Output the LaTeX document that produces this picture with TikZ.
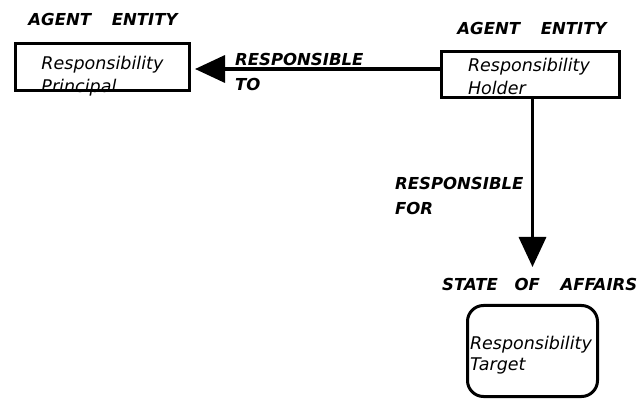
\documentclass[tikz,border=0pt]{standalone}
\usepackage{fontspec}
\setmainfont{DejaVu Sans}
\usetikzlibrary{arrows.meta}

\begin{document}
\begin{tikzpicture}[x=1pt,y=-1pt,
  entity/.style={draw,line width=3pt,align=left,inner sep=2pt,
    font=\itshape\fontsize{17.5}{22.5}\selectfont},
  roletext/.style={inner sep=0pt,align=left,
    font=\bfseries\itshape\fontsize{16.5}{25}\selectfont},
  resparrow/.style={line width=3.5pt,-{Triangle[length=30pt,width=27pt]}}]
\useasboundingbox (0,0) rectangle (641,401);
\node[entity,minimum width=174pt,minimum height=47pt,text width=122pt,
  text height=23pt,text depth=17pt] (principal) at (102.5,67) {Responsibility\\Principal};
\node[entity,minimum width=178pt,minimum height=46pt,text width=125pt,
  text height=18.5pt,text depth=23.5pt] (holder) at (530.5,74.5) {Responsibility\\Holder};
\node[entity,rounded corners=16pt,minimum width=130pt,minimum height=91pt,text width=125pt,
  text height=19pt,text depth=21pt,font=\itshape\fontsize{17.5}{20.5}\selectfont]
  (target) at (532.5,351) {Responsibility\\Target};
\node[roletext,anchor=north] (agentl) at (103,13) {AGENT\hspace{15pt} ENTITY};
\node[roletext,anchor=north] (agentr) at (532,22.5) {AGENT\hspace{15pt} ENTITY};
\node[roletext,anchor=north west] (respto) at (235,53) {RESPONSIBLE\\TO};
\node[roletext,anchor=north west] (respfor) at (395,177) {RESPONSIBLE\\FOR};
\node[roletext,anchor=north west] (soa) at (442,278) {STATE\hspace{11pt} OF\hspace{15pt} AFFAIRS};
\draw[resparrow,shorten >=4pt] ([yshift=5.5pt]holder.west) -- ([yshift=-2pt]principal.east);
\draw[resparrow,shorten >=37pt] (holder.south -| target.north) -- (target.north);
\end{tikzpicture}
\end{document}
